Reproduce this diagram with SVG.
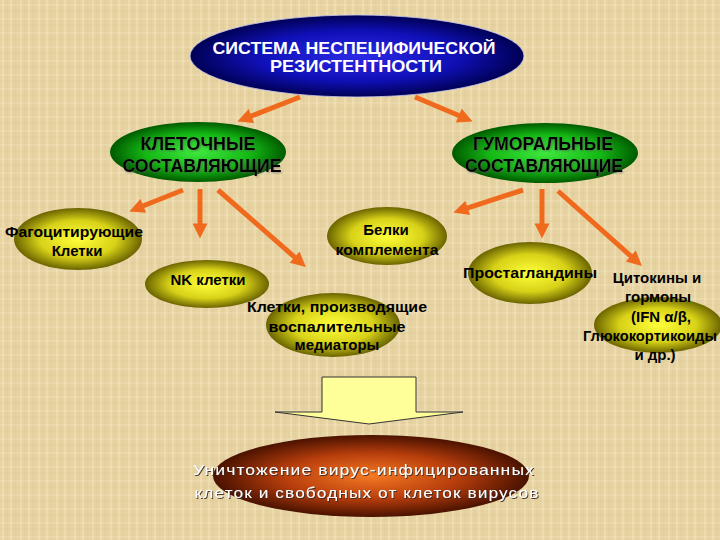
<svg xmlns="http://www.w3.org/2000/svg" width="720" height="540" viewBox="0 0 720 540">
<defs>
<pattern id="bg" width="18" height="14" patternUnits="userSpaceOnUse">
<rect width="18" height="14" fill="#E7D3A2"/>
<path d="M3,0 V14 M11,0 V14" stroke="#F3E6C0" stroke-width="1.2" opacity="0.8"/>
<path d="M7,0 V14 M15,0 V14" stroke="#D8C08A" stroke-width="0.8" opacity="0.5"/>
<path d="M0,5 H18" stroke="#F3E6C0" stroke-width="1" opacity="0.6"/>
<path d="M0,11 H18" stroke="#D5BD86" stroke-width="0.7" opacity="0.4"/>
</pattern>
<radialGradient id="gBlue" cx="50%" cy="50%" r="50%">
<stop offset="0" stop-color="#2A2AE6"/>
<stop offset="0.6" stop-color="#1010B8"/>
<stop offset="1" stop-color="#000055"/>
</radialGradient>
<radialGradient id="gGreen" cx="50%" cy="50%" r="50%">
<stop offset="0" stop-color="#3FE83F"/>
<stop offset="0.6" stop-color="#14B814"/>
<stop offset="1" stop-color="#005A00"/>
</radialGradient>
<radialGradient id="gOlive" cx="50%" cy="50%" r="50%">
<stop offset="0" stop-color="#FFFF3A"/>
<stop offset="0.6" stop-color="#D8D218"/>
<stop offset="1" stop-color="#6A6400"/>
</radialGradient>
<radialGradient id="gBrown" cx="50%" cy="50%" r="50%">
<stop offset="0" stop-color="#F57A24"/>
<stop offset="0.55" stop-color="#B83E0C"/>
<stop offset="1" stop-color="#4A1200"/>
</radialGradient>
<marker id="ah" viewBox="0 0 10 10" markerWidth="3.4" markerHeight="3" refX="3" refY="5" orient="auto">
<path d="M0,0 L10,5 L0,10 z" fill="#F06A1E"/>
</marker>
<filter id="sh" x="-5%" y="-20%" width="110%" height="140%">
<feDropShadow dx="1" dy="1" stdDeviation="0.6" flood-color="#3A2A20" flood-opacity="0.9"/>
</filter>
<filter id="sh2" x="-5%" y="-20%" width="110%" height="140%">
<feDropShadow dx="1" dy="1" stdDeviation="0.8" flood-color="#555" flood-opacity="0.6"/>
</filter>
</defs>
<style>
.t{font-family:"Liberation Sans",Arial,sans-serif;font-weight:bold;text-anchor:middle;fill:#000}
.w{fill:#fff}
.big{font-size:18px}
.sm{font-size:15px}
.bt{font-family:"Liberation Sans",Arial,sans-serif;font-size:15px;text-anchor:middle;fill:#fff;letter-spacing:1px}
.conn line{stroke:#F06A1E;stroke-width:5;marker-end:url(#ah)}
</style>
<rect width="720" height="540" fill="url(#bg)"/>

<g id="connectors" class="conn">
<line x1="300" y1="97" x2="247.2" y2="117.6"/>
<line x1="415" y1="97" x2="462.9" y2="117.3"/>
<line x1="183" y1="190" x2="139.1" y2="207.5"/>
<line x1="200" y1="189" x2="200" y2="228"/>
<line x1="218" y1="190" x2="298" y2="260.1"/>
<line x1="523" y1="190" x2="463.4" y2="209.3"/>
<line x1="542" y1="189" x2="542" y2="228"/>
<line x1="558" y1="191" x2="634.1" y2="259"/>
</g>

<g id="n-system">
<ellipse cx="357" cy="56" rx="167" ry="41" fill="url(#gBlue)" stroke="#C8C8F0" stroke-width="0.8"/>
<text class="t w" x="354" y="54" font-size="17" textLength="283" lengthAdjust="spacingAndGlyphs">СИСТЕМА НЕСПЕЦИФИЧЕСКОЙ</text>
<text class="t w" x="356" y="72" font-size="17" textLength="172" lengthAdjust="spacingAndGlyphs">РЕЗИСТЕНТНОСТИ</text>
</g>

<g id="n-cell">
<ellipse cx="198" cy="152" rx="88" ry="30" fill="url(#gGreen)"/>
<text class="t big" x="198" y="150" filter="url(#sh2)" textLength="115" lengthAdjust="spacingAndGlyphs">КЛЕТОЧНЫЕ</text>
<text class="t big" x="202" y="172" filter="url(#sh2)" textLength="159" lengthAdjust="spacingAndGlyphs">СОСТАВЛЯЮЩИЕ</text>
</g>

<g id="n-humoral">
<ellipse cx="545" cy="153" rx="93" ry="30" fill="url(#gGreen)"/>
<text class="t big" x="543" y="150" filter="url(#sh2)" textLength="140" lengthAdjust="spacingAndGlyphs">ГУМОРАЛЬНЫЕ</text>
<text class="t big" x="544" y="172" filter="url(#sh2)" textLength="158" lengthAdjust="spacingAndGlyphs">СОСТАВЛЯЮЩИЕ</text>
</g>

<g id="n-phago">
<ellipse cx="78" cy="239" rx="64" ry="31" fill="url(#gOlive)"/>
<text class="t sm" x="74" y="237" textLength="138" lengthAdjust="spacingAndGlyphs">Фагоцитирующие</text>
<text class="t sm" x="77" y="256">Клетки</text>
</g>

<g id="n-complement">
<ellipse cx="387" cy="236" rx="60" ry="29" fill="url(#gOlive)"/>
<text class="t sm" x="386" y="235">Белки</text>
<text class="t sm" x="387" y="255" textLength="103" lengthAdjust="spacingAndGlyphs">комплемента</text>
</g>

<g id="n-nk">
<ellipse cx="207" cy="284" rx="62" ry="24" fill="url(#gOlive)"/>
<text class="t sm" x="208" y="285">NK клетки</text>
</g>

<g id="n-mediators">
<ellipse cx="333" cy="325" rx="67" ry="32" fill="url(#gOlive)"/>
<text class="t sm" x="337" y="312" textLength="180" lengthAdjust="spacingAndGlyphs">Клетки, производящие</text>
<text class="t sm" x="337" y="332" textLength="137" lengthAdjust="spacingAndGlyphs">воспалительные</text>
<text class="t sm" x="337" y="350">медиаторы</text>
</g>

<g id="n-prosta">
<ellipse cx="530" cy="273" rx="62" ry="31" fill="url(#gOlive)"/>
<text class="t sm" x="530" y="278" textLength="134" lengthAdjust="spacingAndGlyphs">Простагландины</text>
</g>

<g id="n-cytokines">
<ellipse cx="658" cy="325" rx="64" ry="28" fill="url(#gOlive)"/>
<text class="t sm" x="657" y="283">Цитокины и</text>
<text class="t sm" x="658" y="302">гормоны</text>
<text class="t sm" x="661" y="322">(IFN α/β,</text>
<text class="t sm" x="650" y="341" textLength="134" lengthAdjust="spacingAndGlyphs">Глюкокортикоиды</text>
<text class="t sm" x="655" y="360">и др.)</text>
</g>

<g id="n-blockarrow">
<polygon points="322,377 416,377 416,412 463,412 369,424 275,412 322,412" fill="#FFFF99" stroke="#333" stroke-width="1"/>
</g>

<g id="n-result">
<ellipse cx="371" cy="476" rx="158" ry="41" fill="url(#gBrown)"/>
<text class="bt" x="364" y="475" filter="url(#sh)" textLength="342" lengthAdjust="spacingAndGlyphs">Уничтожение вирус-инфицированных</text>
<text class="bt" x="367" y="498" filter="url(#sh)" textLength="345" lengthAdjust="spacingAndGlyphs">клеток и свободных от клеток вирусов</text>
</g>
</svg>
